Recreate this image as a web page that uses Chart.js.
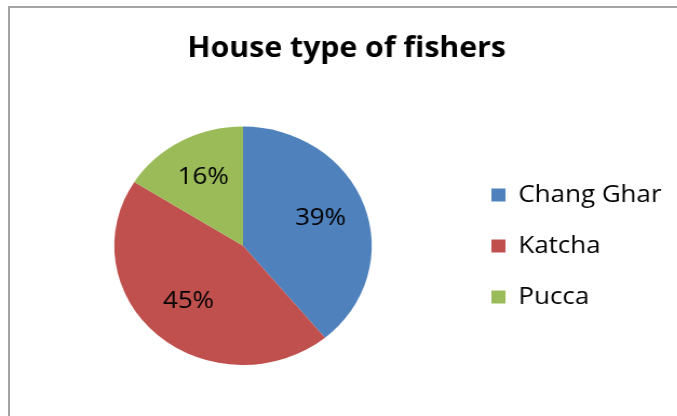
<!DOCTYPE html>
<html>
<head>
<meta charset="utf-8">
<script src="https://cdn.jsdelivr.net/npm/chart.js@4.4.1/dist/chart.umd.min.js"></script>
<style>
    html, body { margin: 0; padding: 0; background: #fff; }
    #page { position: relative; width: 677px; height: 416px; overflow: hidden; }
    #frame {
        position: absolute; left: 8px; top: 6px; right: -10px; bottom: -10px;
        border-left: 2px solid #a3a3a3; border-top: 2px solid #a3a3a3;
    }
    #houseChart {
        position: absolute; left: 0; top: 0;
        transform: scaleX(1.08); transform-origin: 0 0;
    }
</style>
</head>
<body>
<div id="page">
    <div id="frame"></div>
    <canvas id="houseChart" width="640" height="416"></canvas>
</div>
<script>
const houseTypes = ['Chang Ghar', 'Katcha', 'Pucca'];
const houseShares = [39, 45, 16];
const sliceColors = ['#4F81BD', '#C0504D', '#9BBB59'];

// percentage labels inside the slices
const sliceLabels = {
    id: 'sliceLabels',
    afterDatasetsDraw(chart) {
        const ctx = chart.ctx;
        const meta = chart.getDatasetMeta(0);
        ctx.save();
        ctx.font = '24px "Open Sans"';
        ctx.fillStyle = '#000';
        ctx.textAlign = 'center';
        ctx.textBaseline = 'middle';
        meta.data.forEach(function (arc, i) {
            const p = arc.getProps(['x', 'y', 'startAngle', 'endAngle', 'outerRadius'], true);
            const mid = (p.startAngle + p.endAngle) / 2;
            const r = p.outerRadius * 0.64;
            ctx.fillText(houseShares[i] + '%', p.x + Math.cos(mid) * r, p.y + Math.sin(mid) * r - 2);
        });
        ctx.restore();
    }
};

document.addEventListener('DOMContentLoaded', function () {
    const ctxHouse = document.getElementById('houseChart').getContext('2d');
    new Chart(ctxHouse, {
        type: 'pie',
        data: {
            labels: houseTypes,
            datasets: [{
                data: houseShares,
                backgroundColor: sliceColors,
                borderWidth: 0
            }]
        },
        options: {
            responsive: false,
            animation: false,
            layout: {
                padding: { top: 20, left: 22, right: 20, bottom: 51 }
            },
            plugins: {
                title: {
                    display: true,
                    text: 'House type of fishers',
                    color: '#000',
                    font: { family: '"Open Sans"', size: 28, weight: 'bold' },
                    padding: { top: 12, bottom: 61 }
                },
                legend: {
                    position: 'right',
                    align: 'start',
                    maxWidth: 192,
                    // empty title only used as a spacer to push the items down
                    title: {
                        display: true,
                        text: ' ',
                        font: { size: 10 },
                        padding: { top: 124, bottom: 0 }
                    },
                    labels: {
                        color: '#000',
                        font: { family: '"Open Sans"', size: 24 },
                        boxWidth: 13,
                        boxHeight: 13,
                        padding: 27
                    }
                },
                tooltip: { enabled: false }
            }
        },
        plugins: [sliceLabels]
    });
});
</script>
</body>
</html>
